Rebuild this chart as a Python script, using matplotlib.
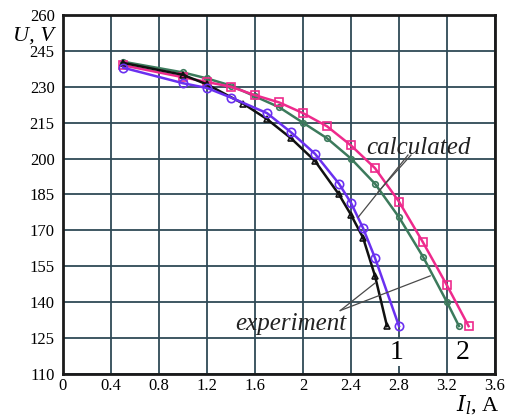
import matplotlib
matplotlib.use("Agg")
import matplotlib.pyplot as plt

# ----------------------------
# Data
# ----------------------------
x_exp1 = [0.5, 1.0, 1.2, 1.5, 1.7, 1.9, 2.1, 2.3, 2.4, 2.5, 2.6, 2.7]
u_exp1 = [240, 235, 231, 223, 216.5, 208.5, 199, 185, 176.5, 167, 151, 130]

x_calc1 = [0.5, 1.0, 1.2, 1.4, 1.7, 1.9, 2.1, 2.3, 2.4, 2.5, 2.6, 2.8]
u_calc1 = [238, 231.5, 229.5, 225.5, 219, 211, 202, 189.5, 181.5, 171, 158.5, 130]

x_exp2 = [0.5, 1.0, 1.2, 1.4, 1.6, 1.8, 2.0, 2.2, 2.4, 2.6, 2.8, 3.0, 3.2, 3.3]
u_exp2 = [240.5, 236, 233.5, 230.5, 226, 221.5, 215, 208.5, 200, 189.5, 175.5, 159, 140, 130]

x_calc2 = [0.5, 1.0, 1.2, 1.4, 1.6, 1.8, 2.0, 2.2, 2.4, 2.6, 2.8, 3.0, 3.2, 3.38]
u_calc2 = [239, 234, 232, 230, 226.5, 223.5, 219, 213.5, 205.5, 196, 182, 165, 147, 130]

x_ticks = [0, 0.4, 0.8, 1.2, 1.6, 2, 2.4, 2.8, 3.2, 3.6]
x_labels = ["0", "0.4", "0.8", "1.2", "1.6", "2", "2.4", "2.8", "3.2", "3.6"]
y_ticks = [110, 125, 140, 155, 170, 185, 200, 215, 230, 245, 260]

# ----------------------------
# Figure
# ----------------------------
plt.rcParams["font.family"] = ["Liberation Serif", "DejaVu Serif"]

fig = plt.figure(figsize=(5.1, 4.19), dpi=100)
ax = fig.add_axes([0.1235, 0.1074, 0.8471, 0.8568])

grid_col = "#2f4a56"
ax.set_xlim(0, 3.6)
ax.set_ylim(110, 260)
ax.set_xticks(x_ticks)
ax.set_xticklabels(x_labels)
ax.set_yticks(y_ticks)
ax.grid(True, color=grid_col, lw=1.3)
ax.set_axisbelow(True)
ax.tick_params(length=0, labelsize=12)
ax.tick_params(axis="x", pad=3)
ax.tick_params(axis="y", pad=6)
for s in ax.spines.values():
    s.set_linewidth(2)
    s.set_color("#1a1a1a")

# curves
ax.plot(x_exp2, u_exp2, color="#3c7a5c", lw=1.8, marker="o", ms=4,
        mfc="none", mew=1.2, zorder=3)
ax.plot(x_calc2, u_calc2, color="#ee2a8c", lw=1.8, marker="s", ms=6,
        mfc="none", mew=1.2, zorder=3)
ax.plot(x_exp1, u_exp1, color="#111111", lw=1.8, marker="^", ms=5,
        mfc="none", mew=1.2, zorder=4)
ax.plot(x_calc1, u_calc1, color="#6a30f0", lw=1.8, marker="o", ms=6,
        mfc="none", mew=1.2, zorder=4)

# pointer lines for labels
lc = "#4a4a4a"
ax.plot([2.875, 2.46], [201.5, 175.5], color=lc, lw=0.9, zorder=5)
ax.plot([2.9, 2.625], [201.5, 186], color=lc, lw=0.9, zorder=5)
ax.plot([2.31, 2.6], [136.5, 148], color=lc, lw=0.9, zorder=5)
ax.plot([2.31, 3.06], [136.5, 151], color=lc, lw=0.9, zorder=5)

ax.text(2.96, 204.5, "calculated", style="italic", fontsize=18,
        ha="center", va="center", color="#222222", zorder=6)
ax.text(1.9, 131, "experiment", style="italic", fontsize=18,
        ha="center", va="center", color="#222222", zorder=6)

box = dict(facecolor="white", edgecolor="none", pad=1)
ax.text(2.78, 119, "1", fontsize=20, ha="center", va="center", bbox=box, zorder=6)
ax.text(3.33, 119, "2", fontsize=20, ha="center", va="center", bbox=box, zorder=6)

# axis labels
fig.text(0.025, 0.915, "U, V", style="italic", fontsize=16, ha="left", va="center")
fig.text(0.98, 0.004, r"$I_l$, A", fontsize=16, ha="right", va="bottom",
         math_fontfamily="dejavuserif")

fig.savefig("out.png", dpi=100)
